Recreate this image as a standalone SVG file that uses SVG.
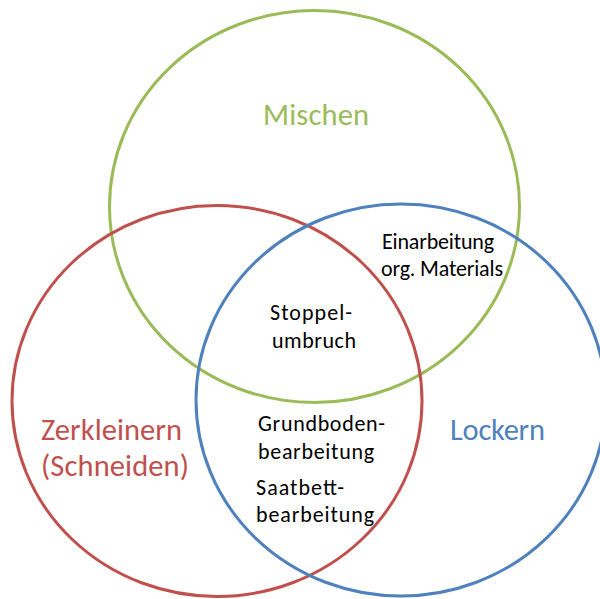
<svg xmlns="http://www.w3.org/2000/svg" width="600" height="599" viewBox="0 0 600 599">
<style>
.c{fill:none;stroke-width:3}
.t{font-family:Carlito,Calibri,Lato,"Liberation Sans",sans-serif}
.b{font-size:22px;fill:#000}
.L{font-size:30.5px}
</style>
<rect width="600" height="599" fill="#fff"/>
<g id="set-mischen">
<ellipse class="c" cx="314.5" cy="206.5" rx="205" ry="196" stroke="#9BBB59"/>
<text class="t L" x="263" y="125" textLength="106" fill="#9BBB59">Mischen</text>
</g>
<g id="set-zerkleinern">
<ellipse class="c" cx="217" cy="401" rx="205" ry="195.5" stroke="#C0504D"/>
<text class="t L" x="41" y="440" textLength="141" fill="#C0504D">Zerkleinern</text>
<text class="t L" x="41" y="476" textLength="148" fill="#C0504D">(Schneiden)</text>
</g>
<g id="set-lockern">
<ellipse class="c" cx="401" cy="400" rx="205" ry="196" stroke="#4F81BD"/>
<text class="t L" x="450" y="440" textLength="95" fill="#4F81BD">Lockern</text>
</g>
<g id="label-einarbeitung">
<text class="t b" x="382" y="249" textLength="112">Einarbeitung</text>
<text class="t b" x="381" y="276" textLength="122">org. Materials</text>
</g>
<g id="label-stoppelumbruch">
<text class="t b" x="270" y="320" textLength="82">Stoppel-</text>
<text class="t b" x="272" y="348" textLength="84">umbruch</text>
</g>
<g id="label-grundboden">
<text class="t b" x="258" y="431" textLength="127">Grundboden-</text>
<text class="t b" x="258" y="459" textLength="116">bearbeitung</text>
</g>
<g id="label-saatbett">
<text class="t b" x="256" y="495" textLength="88">Saatbett-</text>
<text class="t b" x="256" y="522" textLength="118">bearbeitung</text>
</g>
<g id="connectors"/>
</svg>
